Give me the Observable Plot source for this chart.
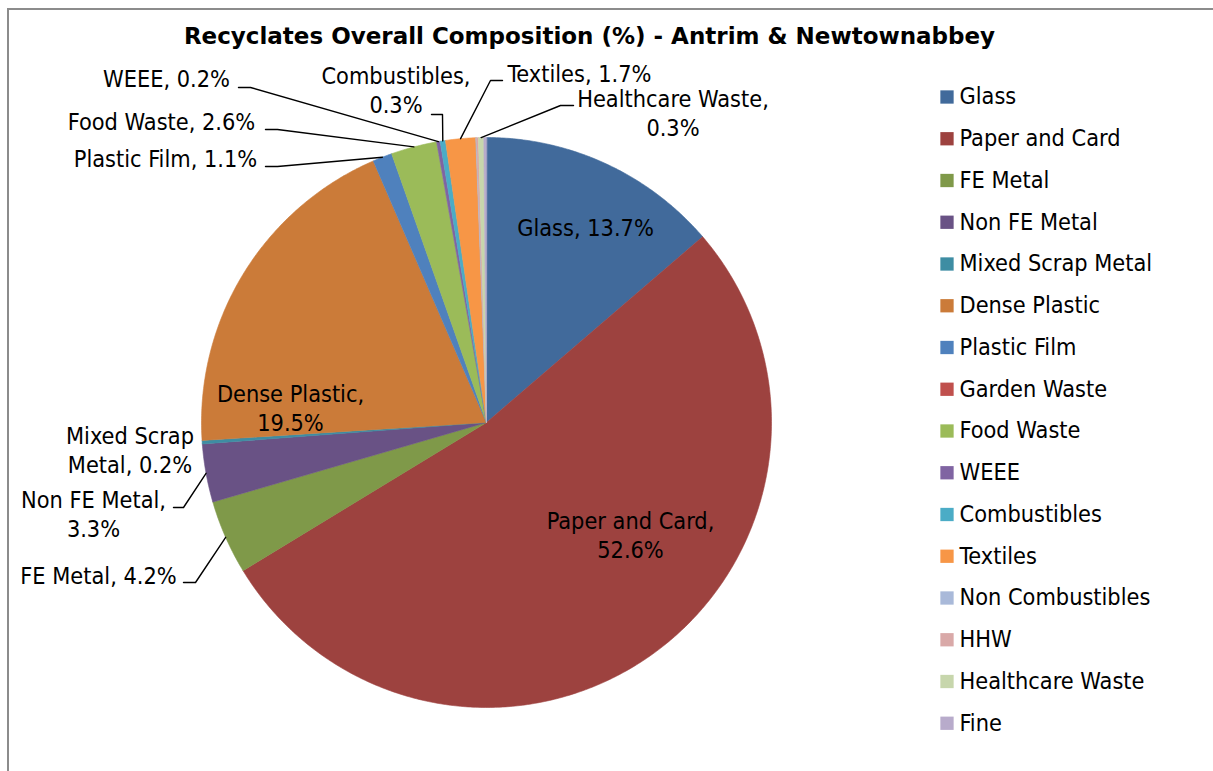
<!DOCTYPE html>
<html>
<head>
<meta charset="utf-8">
<script src="https://cdn.jsdelivr.net/npm/d3@7"></script>
<script src="https://cdn.jsdelivr.net/npm/@observablehq/plot@0.6"></script>
<style>
  html, body { margin: 0; padding: 0; background: #fff; overflow: hidden; width: 1213px; height: 771px; }
  #frame { position: absolute; left: 7px; top: 8px; width: 1300px; height: 900px;
           border-left: 2px solid #8c8c8c; border-top: 2px solid #8c8c8c; box-sizing: border-box; }
  #chart { position: absolute; left: 0; top: 0; }
</style>
</head>
<body>
<div id="frame"></div>
<div id="chart"></div>
<script>
// ---------------- DATA ----------------
const title = "Recyclates Overall Composition (%) - Antrim & Newtownabbey";
const categories = [
  "Glass", "Paper and Card", "FE Metal", "Non FE Metal", "Mixed Scrap Metal",
  "Dense Plastic", "Plastic Film", "Garden Waste", "Food Waste", "WEEE",
  "Combustibles", "Textiles", "Non Combustibles", "HHW", "Healthcare Waste", "Fine"
];
const values = [13.7, 52.6, 4.2, 3.3, 0.2, 19.5, 1.1, 0, 2.6, 0.2, 0.3, 1.7, 0.05, 0.1, 0.3, 0.15];
const colors = [
  "#416A9B", "#9D423F", "#7F9949", "#695285", "#3E8DA3", "#CB7B39",
  "#4F81BD", "#C0504D", "#9BBB59", "#8064A2", "#4BACC6", "#F79646",
  "#A9B9D9", "#D9A9A8", "#C7D6AC", "#B8ABCB"
];
// categories that get a data label
const labelled = ["Glass", "Paper and Card", "FE Metal", "Non FE Metal", "Mixed Scrap Metal",
  "Dense Plastic", "Plastic Film", "Food Waste", "WEEE", "Combustibles", "Textiles", "Healthcare Waste"];

// ---------------- LAYOUT ----------------
const W = 1213, H = 771;
const CX = 486, CY = 422, R = 285;
const FONT = "'DejaVu Sans Condensed', 'DejaVu Sans', sans-serif";
const FS = 23.3;
// label block centres and line breaking
const labelLayout = {
  "Glass":             {x: 585,   y: 226.5, wrap: "none"},
  "Paper and Card":    {x: 630,   y: 534,   wrap: "comma"},
  "Dense Plastic":     {x: 290,   y: 407,   wrap: "comma"},
  "Mixed Scrap Metal": {x: 129.5, y: 449,   wrap: "Scrap"},
  "Non FE Metal":      {x: 93,    y: 512.5, wrap: "comma"},
  "FE Metal":          {x: 98,    y: 574,   wrap: "none"},
  "Plastic Film":      {x: 165,   y: 157,   wrap: "none"},
  "Food Waste":        {x: 161,   y: 120.5, wrap: "none"},
  "WEEE":              {x: 166,   y: 77,    wrap: "none"},
  "Combustibles":      {x: 395.5, y: 89,    wrap: "comma"},
  "Textiles":          {x: 579,   y: 72.5,  wrap: "none"},
  "Healthcare Waste":  {x: 672.5, y: 111.5, wrap: "comma"}
};
// leader lines: label end -> elbow -> slice edge
const leaderLayout = {
  "WEEE":             [[238, 87], [250, 87]],
  "Food Waste":       [[265, 129], [277, 129]],
  "Plastic Film":     [[265, 166], [277, 166]],
  "Combustibles":     [[431, 114], [442, 114]],
  "Textiles":         [[502, 80], [490, 80]],
  "Healthcare Waste": [[573, 105], [560, 105]],
  "Non FE Metal":     [[173, 507], [183, 507]],
  "FE Metal":         [[183, 582], [195, 582]]
};
const legendX = 946.5, legendTextX = 959, legendY0 = 96.5, legendStep = 41.75;

// ---------------- BUILD ----------------
const data = categories.map((name, i) => ({name, value: values[i]}));
const arcs = d3.pie().sort(null).value(d => d.value)(data);
const px = a => CX + R * Math.sin(a);
const py = a => CY - R * Math.cos(a);

const slicePts = [];
for (const a of arcs) {
  if (a.endAngle - a.startAngle <= 0) continue;
  const name = a.data.name;
  slicePts.push({name, x: CX, y: CY});
  const n = Math.max(2, Math.ceil((a.endAngle - a.startAngle) / (Math.PI / 360)));
  for (let i = 0; i <= n; i++) {
    const t = a.startAngle + (a.endAngle - a.startAngle) * i / n;
    slicePts.push({name, x: px(t), y: py(t)});
  }
}

const fmt = v => v.toFixed(1) + "%";
const labelText = (name, value) => {
  const w = labelLayout[name].wrap;
  if (w === "comma") return name + ",\n" + fmt(value);
  if (w === "none") return name + ", " + fmt(value);
  return name.replace(w + " ", w + "\n") + ", " + fmt(value);
};
const labels = labelled.map(name => {
  const v = values[categories.indexOf(name)];
  return {name, text: labelText(name, v), x: labelLayout[name].x, y: labelLayout[name].y};
});

const leaderPts = [];
for (const a of arcs) {
  const name = a.data.name;
  if (!leaderLayout[name]) continue;
  const mid = (a.startAngle + a.endAngle) / 2;
  for (const [x, y] of leaderLayout[name]) leaderPts.push({name, x, y});
  leaderPts.push({name, x: px(mid), y: py(mid)});
}

const legend = categories.map((name, i) => ({name, y: legendY0 + i * legendStep}));

const chart = Plot.plot({
  width: W, height: H,
  margin: 0,
  x: {domain: [0, W], range: [0, W], axis: null},
  y: {domain: [0, H], range: [0, H], axis: null},
  color: {type: "ordinal", domain: categories, range: colors},
  style: {fontFamily: FONT, background: "transparent", color: "#000"},
  marks: [
    Plot.line(slicePts, {x: "x", y: "y", z: "name", fill: "name", stroke: "name",
      strokeWidth: 0.6, curve: "linear-closed"}),
    Plot.line(leaderPts, {x: "x", y: "y", z: "name", stroke: "#000", strokeWidth: 1.4}),
    Plot.text(labels, {x: "x", y: "y", text: "text", fontSize: FS, lineHeight: 1.25,
      fill: "#000", textAnchor: "middle"}),
    Plot.text([title], {x: () => 589, y: () => 36.5, text: d => d, fontSize: 23,
      fontWeight: "bold", fill: "#000", fontFamily: "'DejaVu Sans', sans-serif"}),
    Plot.dot(legend, {x: () => legendX, y: "y", symbol: "square", r: 7.5, fill: "name", stroke: null}),
    Plot.text(legend, {x: () => legendTextX, y: "y", text: "name", textAnchor: "start",
      fontSize: FS, fill: "#000"})
  ]
});
document.getElementById("chart").append(chart);
</script>
</body>
</html>
